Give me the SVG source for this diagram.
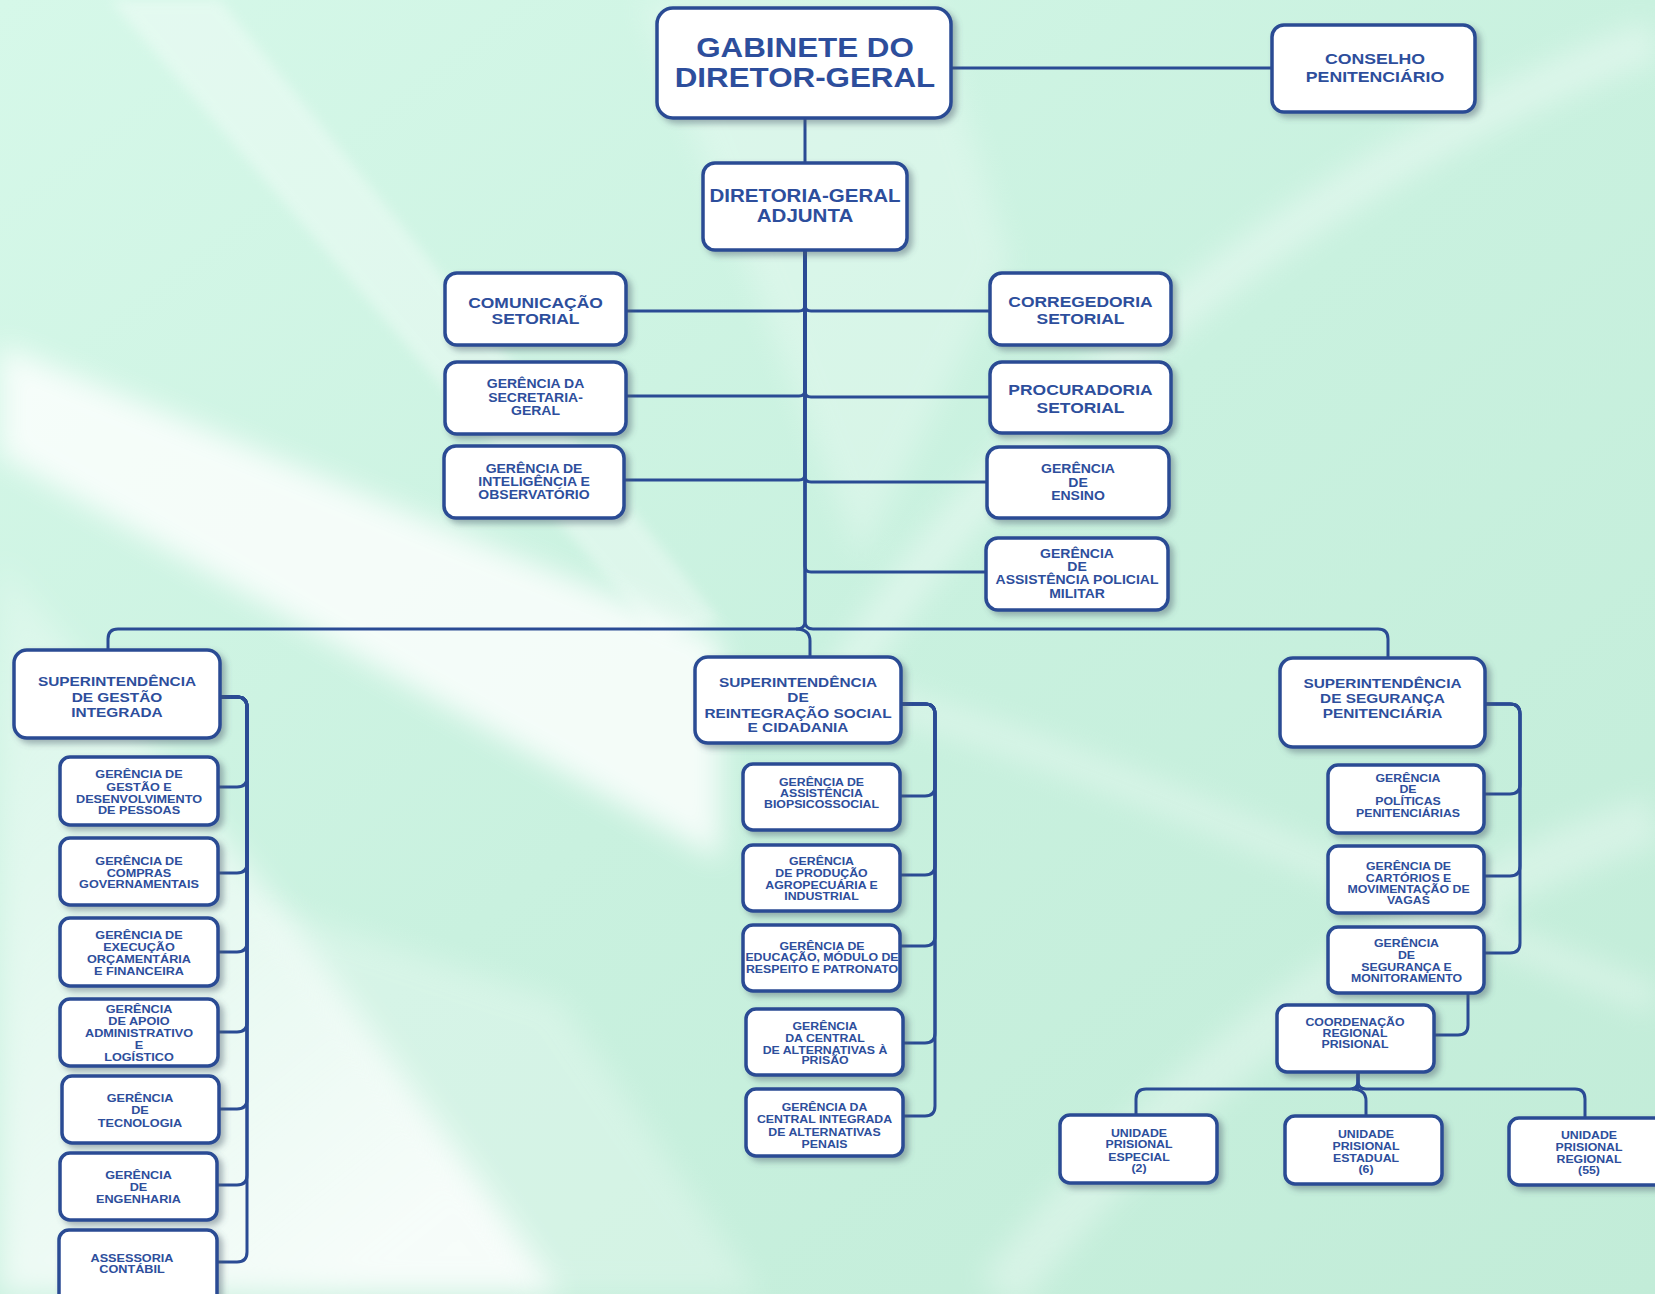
<svg xmlns="http://www.w3.org/2000/svg" width="1655" height="1294" viewBox="0 0 1655 1294">
<defs>
<linearGradient id="bg" x1="0" y1="0" x2="1" y2="1">
<stop offset="0" stop-color="#d6f8e9"/>
<stop offset="0.5" stop-color="#c9f1df"/>
<stop offset="1" stop-color="#c2ecd8"/>
</linearGradient>
<linearGradient id="bl" x1="0" y1="0" x2="0.6" y2="1">
<stop offset="0" stop-color="#ffffff" stop-opacity="0.2"/>
<stop offset="1" stop-color="#ffffff" stop-opacity="0.85"/>
</linearGradient>
<filter id="blur" x="-20%" y="-20%" width="140%" height="140%"><feGaussianBlur stdDeviation="14"/></filter>
<filter id="blur2" x="-20%" y="-20%" width="140%" height="140%"><feGaussianBlur stdDeviation="6"/></filter>
<filter id="sh" x="-10%" y="-10%" width="125%" height="130%">
<feDropShadow dx="4" dy="4" stdDeviation="3" flood-color="#4a5a6a" flood-opacity="0.45"/>
</filter>
</defs>
<style>
.box{fill:#ffffff;stroke:#2a4b94;stroke-width:3.5;filter:url(#sh)}
.c{fill:none;stroke:#2a4b94;stroke-width:3;stroke-linejoin:round}
text{font-family:"Liberation Sans",Arial,Helvetica,sans-serif;font-weight:bold;fill:#2d4e9c;text-anchor:middle}
.f1{font-size:27.5px}
.f2{font-size:15.5px}
.f3{font-size:18px}
.f4{font-size:15.3px}
.f5{font-size:12.3px}
.f6{font-size:13.5px}
.f7{font-size:11.1px}
.f8{font-size:10.8px}
</style>
<g id="background">
<rect x="0" y="0" width="1655" height="1294" fill="url(#bg)"/>
<polygon points="640,0 930,0 1010,260 860,560 760,300" fill="#ffffff" opacity="0.25" filter="url(#blur)"/>
<polygon points="110,0 220,0 720,620 660,640" fill="#ffffff" opacity="0.35" filter="url(#blur2)"/>
<polygon points="0,345 0,455 720,860 720,640" fill="#ffffff" opacity="0.8" filter="url(#blur)"/>
<polygon points="0,560 260,880 560,1294 0,1294" fill="url(#bl)" filter="url(#blur)"/>
<polygon points="250,900 560,1000 760,1294 540,1294" fill="#ffffff" opacity="0.25" filter="url(#blur)"/>
<path d="M1655,40 C1350,150 1000,400 820,720" fill="none" stroke="#ffffff" stroke-width="40" opacity="0.35" filter="url(#blur)"/>
<path d="M1655,820 C1400,900 1150,1100 1000,1294" fill="none" stroke="#ffffff" stroke-width="50" opacity="0.3" filter="url(#blur)"/>
<path d="M880,700 C1100,760 1400,900 1655,1000" fill="none" stroke="#ffffff" stroke-width="30" opacity="0.3" filter="url(#blur)"/>
</g>
<g id="connectors">
<path class="c" d="M805,118 V163"/>
<path class="c" d="M951,68 H1272"/>
<path class="c" d="M805,250 V305 Q805,311 799,311 H626"/>
<path class="c" d="M805,250 V390 Q805,396 799,396 H626"/>
<path class="c" d="M805,250 V474 Q805,480 799,480 H624"/>
<path class="c" d="M805,250 V305 Q805,311 811,311 H990"/>
<path class="c" d="M805,250 V391 Q805,397 811,397 H990"/>
<path class="c" d="M805,250 V476 Q805,482 811,482 H987"/>
<path class="c" d="M805,250 V566 Q805,572 811,572 H986"/>
<path class="c" d="M805,250 V621 Q805,629 797,629 H118 Q108,629 108,639 V650"/>
<path class="c" d="M805,250 V621 Q805,629 813,629 H1378 Q1388,629 1388,639 V658"/>
<path class="c" d="M796,629 Q810,629 810,641 V657"/>
<path class="c" d="M220,697 H237 Q247,697 247,707 V777 Q247,787 237,787 H218"/>
<path class="c" d="M220,697 H237 Q247,697 247,707 V863 Q247,873 237,873 H218"/>
<path class="c" d="M220,697 H237 Q247,697 247,707 V942 Q247,952 237,952 H218"/>
<path class="c" d="M220,697 H237 Q247,697 247,707 V1022 Q247,1032 237,1032 H218"/>
<path class="c" d="M220,697 H237 Q247,697 247,707 V1099 Q247,1109 237,1109 H219"/>
<path class="c" d="M220,697 H237 Q247,697 247,707 V1175 Q247,1185 237,1185 H217"/>
<path class="c" d="M220,697 H237 Q247,697 247,707 V1252 Q247,1262 237,1262 H217"/>
<path class="c" d="M901,704 H925 Q935,704 935,714 V786 Q935,796 925,796 H900"/>
<path class="c" d="M901,704 H925 Q935,704 935,714 V865 Q935,875 925,875 H900"/>
<path class="c" d="M901,704 H925 Q935,704 935,714 V936 Q935,946 925,946 H900"/>
<path class="c" d="M901,704 H925 Q935,704 935,714 V1033 Q935,1043 925,1043 H903"/>
<path class="c" d="M901,704 H925 Q935,704 935,714 V1106 Q935,1116 925,1116 H903"/>
<path class="c" d="M1485,704 H1510 Q1520,704 1520,714 V784 Q1520,794 1510,794 H1484"/>
<path class="c" d="M1485,704 H1510 Q1520,704 1520,714 V866 Q1520,876 1510,876 H1484"/>
<path class="c" d="M1485,704 H1510 Q1520,704 1520,714 V943 Q1520,953 1510,953 H1484"/>
<path class="c" d="M1468,993 V1025 Q1468,1035 1458,1035 H1434"/>
<path class="c" d="M1358,1072 V1081 Q1358,1089 1350,1089 H1146 Q1136,1089 1136,1099 V1115"/>
<path class="c" d="M1358,1072 V1089 M1352,1089 Q1366,1089 1366,1101 V1116"/>
<path class="c" d="M1358,1072 V1081 Q1358,1089 1366,1089 H1575 Q1585,1089 1585,1099 V1118"/>
</g>
<g id="n-gabinete"><rect class="box" x="657" y="8" width="294" height="110" rx="16"/>
<g transform="translate(805,0) scale(1.14,1)"><text class="f1" x="0" y="57.5">GABINETE DO</text><text class="f1" x="0" y="87.5">DIRETOR-GERAL</text></g></g>
<g id="n-conselho"><rect class="box" x="1272" y="25" width="203" height="87" rx="12"/>
<g transform="translate(1375,0) scale(1.14,1)"><text class="f2" x="0" y="64">CONSELHO</text><text class="f2" x="0" y="81.7">PENITENCIÁRIO</text></g></g>
<g id="n-diretoria"><rect class="box" x="703" y="163" width="204" height="87" rx="12"/>
<g transform="translate(805,0) scale(1.14,1)"><text class="f3" x="0" y="202">DIRETORIA-GERAL</text><text class="f3" x="0" y="221.7">ADJUNTA</text></g></g>
<g id="n-comunicacao"><rect class="box" x="445" y="273" width="181" height="72" rx="12"/>
<g transform="translate(535.5,0) scale(1.14,1)"><text class="f4" x="0" y="307.7">COMUNICAÇÃO</text><text class="f4" x="0" y="324.5">SETORIAL</text></g></g>
<g id="n-corregedoria"><rect class="box" x="990" y="273" width="181" height="72" rx="12"/>
<g transform="translate(1080.5,0) scale(1.14,1)"><text class="f4" x="0" y="306.7">CORREGEDORIA</text><text class="f4" x="0" y="324.5">SETORIAL</text></g></g>
<g id="n-secretaria"><rect class="box" x="445" y="362" width="181" height="72" rx="12"/>
<g transform="translate(535.5,0) scale(1.14,1)"><text class="f5" x="0" y="388.3">GERÊNCIA DA</text><text class="f5" x="0" y="401.7">SECRETARIA-</text><text class="f5" x="0" y="415">GERAL</text></g></g>
<g id="n-procuradoria"><rect class="box" x="990" y="362" width="181" height="71" rx="12"/>
<g transform="translate(1080.5,0) scale(1.14,1)"><text class="f4" x="0" y="395">PROCURADORIA</text><text class="f4" x="0" y="413">SETORIAL</text></g></g>
<g id="n-inteligencia"><rect class="box" x="444" y="446" width="180" height="72" rx="12"/>
<g transform="translate(534,0) scale(1.14,1)"><text class="f5" x="0" y="472.7">GERÊNCIA DE</text><text class="f5" x="0" y="486">INTELIGÊNCIA E</text><text class="f5" x="0" y="499.3">OBSERVATÓRIO</text></g></g>
<g id="n-ensino"><rect class="box" x="987" y="447" width="182" height="71" rx="12"/>
<g transform="translate(1078,0) scale(1.14,1)"><text class="f5" x="0" y="473.3">GERÊNCIA</text><text class="f5" x="0" y="486.7">DE</text><text class="f5" x="0" y="500">ENSINO</text></g></g>
<g id="n-policial"><rect class="box" x="986" y="538" width="182" height="72" rx="12"/>
<g transform="translate(1077,0) scale(1.14,1)"><text class="f5" x="0" y="557.7">GERÊNCIA</text><text class="f5" x="0" y="571">DE</text><text class="f5" x="0" y="584.3">ASSISTÊNCIA POLICIAL</text><text class="f5" x="0" y="597.7">MILITAR</text></g></g>
<g id="n-sgi"><rect class="box" x="14" y="650" width="206" height="88" rx="13"/>
<g transform="translate(117,0) scale(1.14,1)"><text class="f6" x="0" y="686">SUPERINTENDÊNCIA</text><text class="f6" x="0" y="701.7">DE GESTÃO</text><text class="f6" x="0" y="716.7">INTEGRADA</text></g></g>
<g id="n-srsc"><rect class="box" x="695" y="657" width="206" height="86" rx="13"/>
<g transform="translate(798,0) scale(1.14,1)"><text class="f6" x="0" y="687.5">SUPERINTENDÊNCIA</text><text class="f6" x="0" y="701.8">DE</text><text class="f6" x="0" y="717.9">REINTEGRAÇÃO SOCIAL</text><text class="f6" x="0" y="732.1">E CIDADANIA</text></g></g>
<g id="n-ssp"><rect class="box" x="1280" y="658" width="205" height="89" rx="13"/>
<g transform="translate(1382.5,0) scale(1.14,1)"><text class="f6" x="0" y="688.3">SUPERINTENDÊNCIA</text><text class="f6" x="0" y="703.3">DE SEGURANÇA</text><text class="f6" x="0" y="718.3">PENITENCIÁRIA</text></g></g>
<g id="n-ggdp"><rect class="box" x="60" y="757" width="158" height="68" rx="10"/>
<g transform="translate(139,0) scale(1.14,1)"><text class="f7" x="0" y="778.3">GERÊNCIA DE</text><text class="f7" x="0" y="790.7">GESTÃO E</text><text class="f7" x="0" y="802.7">DESENVOLVIMENTO</text><text class="f7" x="0" y="814">DE PESSOAS</text></g></g>
<g id="n-compras"><rect class="box" x="60" y="838" width="158" height="67" rx="10"/>
<g transform="translate(139,0) scale(1.14,1)"><text class="f7" x="0" y="865">GERÊNCIA DE</text><text class="f7" x="0" y="876.7">COMPRAS</text><text class="f7" x="0" y="888.3">GOVERNAMENTAIS</text></g></g>
<g id="n-execucao"><rect class="box" x="60" y="918" width="158" height="68" rx="10"/>
<g transform="translate(139,0) scale(1.14,1)"><text class="f7" x="0" y="939.3">GERÊNCIA DE</text><text class="f7" x="0" y="950.7">EXECUÇÃO</text><text class="f7" x="0" y="963.3">ORÇAMENTÁRIA</text><text class="f7" x="0" y="975">E FINANCEIRA</text></g></g>
<g id="n-apoio"><rect class="box" x="60" y="999" width="158" height="67" rx="10"/>
<g transform="translate(139,0) scale(1.14,1)"><text class="f7" x="0" y="1013.3">GERÊNCIA</text><text class="f7" x="0" y="1025">DE APOIO</text><text class="f7" x="0" y="1037.3">ADMINISTRATIVO</text><text class="f7" x="0" y="1049">E</text><text class="f7" x="0" y="1060.7">LOGÍSTICO</text></g></g>
<g id="n-tecnologia"><rect class="box" x="62" y="1076" width="157" height="67" rx="10"/>
<g transform="translate(140,0) scale(1.14,1)"><text class="f7" x="0" y="1102.3">GERÊNCIA</text><text class="f7" x="0" y="1114.3">DE</text><text class="f7" x="0" y="1126.7">TECNOLOGIA</text></g></g>
<g id="n-engenharia"><rect class="box" x="60" y="1153" width="157" height="67" rx="10"/>
<g transform="translate(138.5,0) scale(1.14,1)"><text class="f7" x="0" y="1179.3">GERÊNCIA</text><text class="f7" x="0" y="1191">DE</text><text class="f7" x="0" y="1203.3">ENGENHARIA</text></g></g>
<g id="n-assessoria"><rect class="box" x="59" y="1230" width="158" height="80" rx="10"/>
<g transform="translate(132,0) scale(1.14,1)"><text class="f7" x="0" y="1261.7">ASSESSORIA</text><text class="f7" x="0" y="1273.3">CONTÁBIL</text></g></g>
<g id="n-biopsico"><rect class="box" x="743" y="764" width="157" height="66" rx="10"/>
<g transform="translate(821.5,0) scale(1.14,1)"><text class="f8" x="0" y="785.7">GERÊNCIA DE</text><text class="f8" x="0" y="796.8">ASSISTÊNCIA</text><text class="f8" x="0" y="807.9">BIOPSICOSSOCIAL</text></g></g>
<g id="n-producao"><rect class="box" x="743" y="845" width="157" height="66" rx="10"/>
<g transform="translate(821.5,0) scale(1.14,1)"><text class="f8" x="0" y="865">GERÊNCIA</text><text class="f8" x="0" y="876.8">DE PRODUÇÃO</text><text class="f8" x="0" y="888.6">AGROPECUÁRIA E</text><text class="f8" x="0" y="900">INDUSTRIAL</text></g></g>
<g id="n-educacao"><rect class="box" x="743" y="925" width="157" height="66" rx="10"/>
<g transform="translate(822,0) scale(1.14,1)"><text class="f8" x="0" y="950">GERÊNCIA DE</text><text class="f8" x="0" y="961.4">EDUCAÇÃO, MÓDULO DE</text><text class="f8" x="0" y="973.2">RESPEITO E PATRONATO</text></g></g>
<g id="n-alternativas"><rect class="box" x="746" y="1009" width="157" height="66" rx="10"/>
<g transform="translate(825,0) scale(1.14,1)"><text class="f8" x="0" y="1030.4">GERÊNCIA</text><text class="f8" x="0" y="1042">DA CENTRAL</text><text class="f8" x="0" y="1053.6">DE ALTERNATIVAS À</text><text class="f8" x="0" y="1064.3">PRISÃO</text></g></g>
<g id="n-integrada"><rect class="box" x="746" y="1089" width="157" height="67" rx="10"/>
<g transform="translate(824.5,0) scale(1.14,1)"><text class="f8" x="0" y="1110.7">GERÊNCIA DA</text><text class="f8" x="0" y="1123.2">CENTRAL INTEGRADA</text><text class="f8" x="0" y="1135.7">DE ALTERNATIVAS</text><text class="f8" x="0" y="1148.2">PENAIS</text></g></g>
<g id="n-politicas"><rect class="box" x="1328" y="765" width="156" height="68" rx="10"/>
<g transform="translate(1408,0) scale(1.14,1)"><text class="f8" x="0" y="781.7">GERÊNCIA</text><text class="f8" x="0" y="793.3">DE</text><text class="f8" x="0" y="805">POLÍTICAS</text><text class="f8" x="0" y="816.7">PENITENCIÁRIAS</text></g></g>
<g id="n-cartorios"><rect class="box" x="1328" y="846" width="156" height="67" rx="10"/>
<g transform="translate(1408.5,0) scale(1.14,1)"><text class="f8" x="0" y="870">GERÊNCIA DE</text><text class="f8" x="0" y="881.7">CARTÓRIOS E</text><text class="f8" x="0" y="893.3">MOVIMENTAÇÃO DE</text><text class="f8" x="0" y="904.3">VAGAS</text></g></g>
<g id="n-seguranca"><rect class="box" x="1328" y="927" width="156" height="66" rx="10"/>
<g transform="translate(1406.5,0) scale(1.14,1)"><text class="f8" x="0" y="947.3">GERÊNCIA</text><text class="f8" x="0" y="959">DE</text><text class="f8" x="0" y="970.7">SEGURANÇA E</text><text class="f8" x="0" y="982.3">MONITORAMENTO</text></g></g>
<g id="n-coordenacao"><rect class="box" x="1277" y="1005" width="157" height="67" rx="10"/>
<g transform="translate(1355,0) scale(1.14,1)"><text class="f8" x="0" y="1025.7">COORDENAÇÃO</text><text class="f8" x="0" y="1037.3">REGIONAL</text><text class="f8" x="0" y="1048.3">PRISIONAL</text></g></g>
<g id="n-especial"><rect class="box" x="1060" y="1115" width="157" height="68" rx="10"/>
<g transform="translate(1139,0) scale(1.14,1)"><text class="f8" x="0" y="1136.7">UNIDADE</text><text class="f8" x="0" y="1148.3">PRISIONAL</text><text class="f8" x="0" y="1160.7">ESPECIAL</text><text class="f8" x="0" y="1171.7">(2)</text></g></g>
<g id="n-estadual"><rect class="box" x="1285" y="1116" width="157" height="68" rx="10"/>
<g transform="translate(1366,0) scale(1.14,1)"><text class="f8" x="0" y="1138.3">UNIDADE</text><text class="f8" x="0" y="1150">PRISIONAL</text><text class="f8" x="0" y="1161.7">ESTADUAL</text><text class="f8" x="0" y="1173.3">(6)</text></g></g>
<g id="n-regional"><rect class="box" x="1509" y="1118" width="157" height="67" rx="10"/>
<g transform="translate(1589,0) scale(1.14,1)"><text class="f8" x="0" y="1139.3">UNIDADE</text><text class="f8" x="0" y="1150.7">PRISIONAL</text><text class="f8" x="0" y="1162.7">REGIONAL</text><text class="f8" x="0" y="1174">(55)</text></g></g>
</svg>
